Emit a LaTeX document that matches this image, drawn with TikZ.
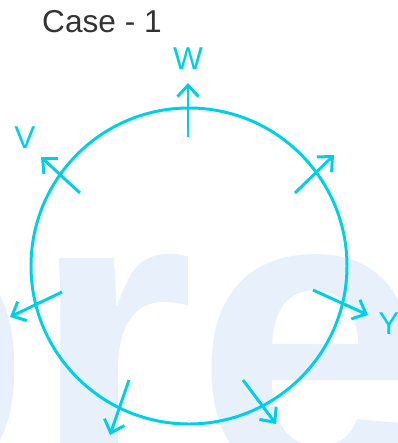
\documentclass[tikz,border=0pt]{standalone}
\usepackage{fontspec}
\setmainfont{Liberation Sans}
\usetikzlibrary{arrows.meta}
\definecolor{cyanline}{RGB}{0,208,230}
\definecolor{marktint}{RGB}{232,240,252}
\definecolor{casegray}{RGB}{51,51,51}
\tikzset{
  force/.style={cyanline, line width=1.7pt, -{Straight Barb[length=6.5pt,width=12pt]}},
  flabel/.style={text=cyanline, font=\fontsize{18}{20}\selectfont, inner sep=0pt}
}
\begin{document}
\begin{tikzpicture}[x=0.02cm,y=-0.02cm]
            \useasboundingbox (0,0) rectangle (398,443);
            % faint mark in the back
            \begin{scope}
              \clip (0,0) rectangle (398,443);
              \node[text=marktint, anchor=base west, inner sep=0pt, font=\fontsize{239}{240}\selectfont\bfseries] (mark) at (-225,480) {pre};
            \end{scope}
            \node[text=casegray, font=\fontsize{18}{20}\selectfont, inner sep=0pt] (case) at (102,22) {Case - 1};
            \coordinate (O) at (189,266);
            \draw[cyanline, line width=1.7pt] (O) circle (158);
            \coordinate (W0) at (188,137);
            \coordinate (W1) at (188,83);
            \draw[force] (W0) -- (W1);
            \node[flabel] (W) at (188,59) {W};
            \coordinate (V0) at (80,193);
            \coordinate (V1) at (41,157);
            \draw[force] (V0) -- (V1);
            \node[flabel] (V) at (25,138) {V};
            \coordinate (A0) at (295,193);
            \coordinate (A1) at (334,155);
            \draw[force] (A0) -- (A1);
            \coordinate (B0) at (62,292);
            \coordinate (B1) at (10,317);
            \draw[force] (B0) -- (B1);
            \coordinate (Y0) at (313,290);
            \coordinate (Y1) at (368,315);
            \draw[force] (Y0) -- (Y1);
            \node[flabel] (Y) at (389,324) {Y};
            \coordinate (C0) at (129,380);
            \coordinate (C1) at (110,435);
            \draw[force] (C0) -- (C1);
            \coordinate (D0) at (243,380);
            \coordinate (D1) at (276,424);
            \draw[force] (D0) -- (D1);
        \end{tikzpicture}
\end{document}
